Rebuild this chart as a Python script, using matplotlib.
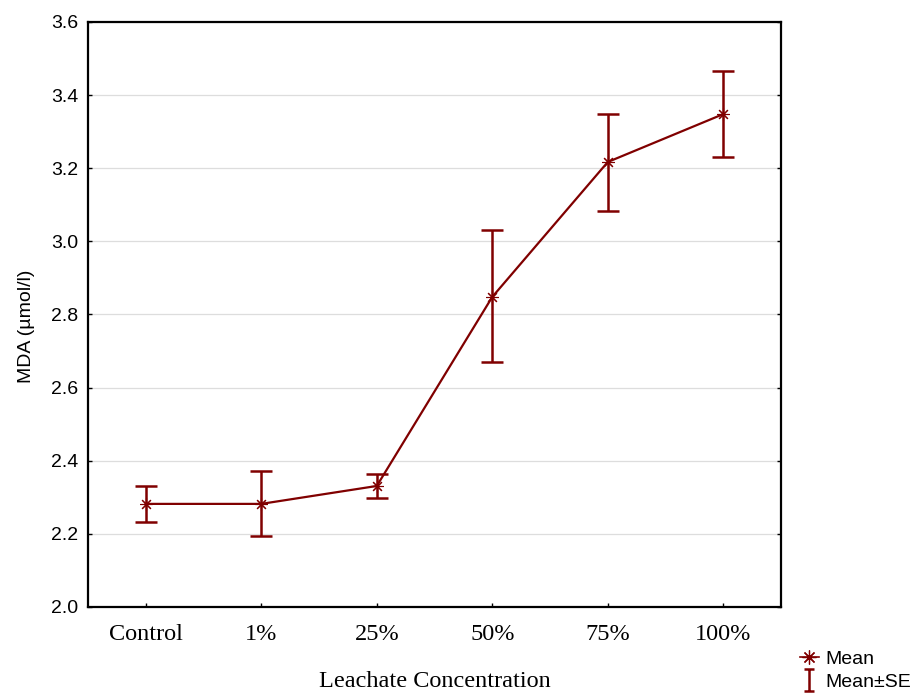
import matplotlib
matplotlib.use("Agg")
import matplotlib.pyplot as plt
from matplotlib.lines import Line2D
from matplotlib.path import Path

categories = ["Control", "1%", "25%", "50%", "75%", "100%"]
means = [2.282, 2.282, 2.331, 2.848, 3.217, 3.348]
se_upper = [2.331, 2.372, 2.364, 3.030, 3.348, 3.466]
se_lower = [2.233, 2.194, 2.298, 2.670, 3.083, 3.231]
y_ticks = [2.0, 2.2, 2.4, 2.6, 2.8, 3.0, 3.2, 3.4, 3.6]

color = "#800000"
fig = plt.figure(figsize=(9.14, 6.93), dpi=100)
ax = fig.add_axes([0.0963, 0.1241, 0.7582, 0.8442])

x = list(range(len(categories)))
yerr = [[m - lo for m, lo in zip(means, se_lower)], [hi - m for m, hi in zip(means, se_upper)]]
ax.errorbar(x, means, yerr=yerr, fmt='none', ecolor=color, elinewidth=1.8,
            capsize=8, capthick=1.8, zorder=3)
ax.plot(x, means, color=color, lw=1.6, marker=(8, 2, 0), markersize=9,
        markeredgewidth=0.8, markeredgecolor=color, zorder=4)

ax.set_xlim(-0.5, 5.5)
ax.set_ylim(2.0, 3.6)
ax.set_yticks(y_ticks)
ax.set_yticklabels([f"{v:.1f}" for v in y_ticks], fontfamily="Liberation Sans", fontsize=14)
ax.set_xticks(x)
ax.set_xticklabels(categories, fontfamily="Liberation Serif", fontsize=17.5)
ax.tick_params(axis='x', direction='in', length=3, width=1, pad=12)
ax.tick_params(axis='y', direction='in', length=3, width=1, right=True, pad=7)
ax.grid(axis='y', color='#dddddd', lw=0.9)
ax.set_axisbelow(True)
for s in ax.spines.values():
    s.set_linewidth(1.6)

ax.set_xlabel("Leachate Concentration", fontfamily="Liberation Serif", fontsize=17.5, labelpad=19)
ax.set_ylabel("MDA (µmol/l)", fontfamily="Liberation Sans", fontsize=14)
ax.yaxis.set_label_coords(-0.077, 0.479)

ibar = Path([(-0.45, 1), (0.45, 1), (0, 1), (0, -1), (-0.45, -1), (0.45, -1)],
            [Path.MOVETO, Path.LINETO, Path.MOVETO, Path.LINETO, Path.MOVETO, Path.LINETO])
h_mean = Line2D([], [], color=color, lw=1.2, marker=(8, 2, 0), markersize=10, markeredgewidth=0.9)
h_se = Line2D([], [], color=color, lw=0, marker=ibar, markersize=16, markeredgewidth=1.8,
              markerfacecolor='none')
fig.legend([h_mean, h_se], ["Mean", "Mean±SE"], loc='lower left', bbox_to_anchor=(0.86, -0.017),
           frameon=False, prop={'family': 'Liberation Sans', 'size': 14},
           handlelength=1.0, handletextpad=0.3, labelspacing=0.3, borderpad=0.2)

fig.savefig("out.png", dpi=100)
